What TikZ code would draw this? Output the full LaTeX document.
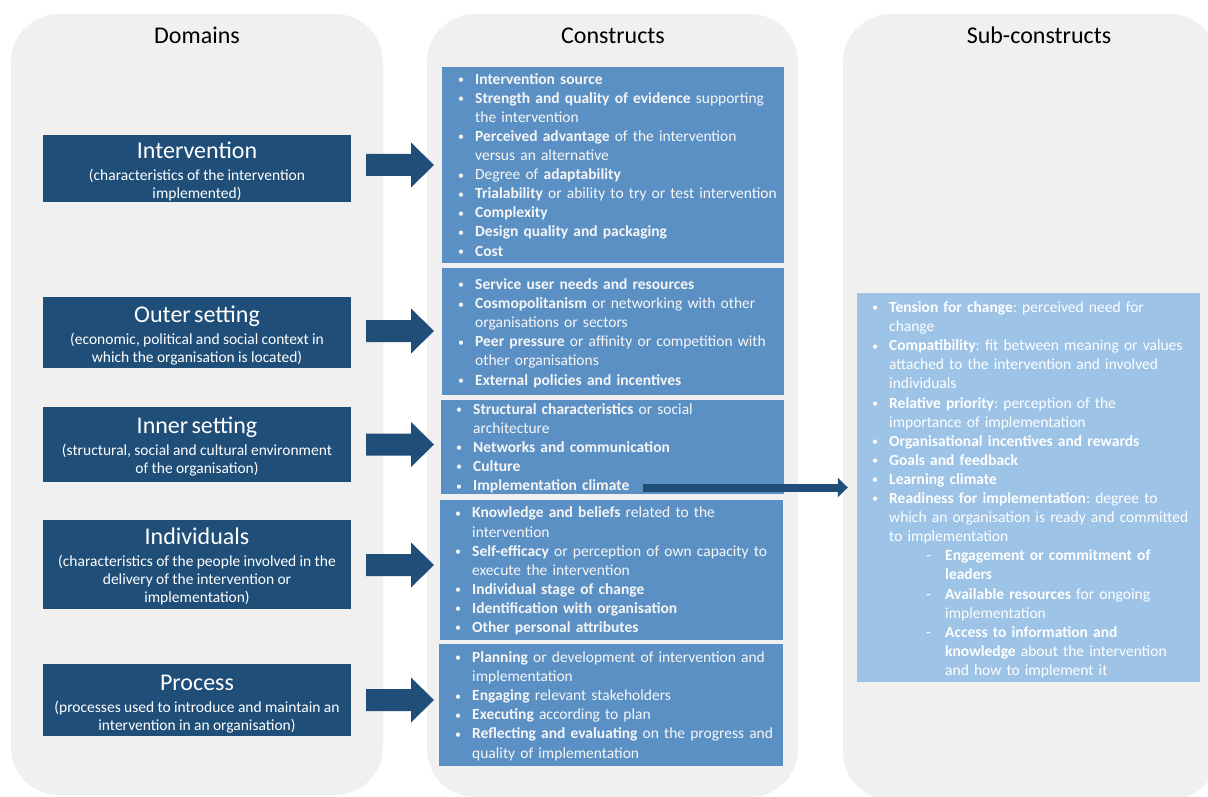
\documentclass[tikz,border=0pt]{standalone}
\usepackage{fontspec}
\setmainfont{Carlito}
\usetikzlibrary{arrows.meta}
\frenchspacing

\definecolor{panelgrey}{RGB}{240,240,240}
\definecolor{navy}{HTML}{1F4E79}
\definecolor{midblue}{RGB}{91,144,197}
\definecolor{paleblue}{HTML}{9DC3E6}
\definecolor{listwhite}{RGB}{246,246,246}

% list helpers: bullet, continuation indent, sub-item dash, sub-item continuation
\newcommand\lbul{\makebox[18pt][l]{\hspace{1pt}\raisebox{0.6pt}{\fontsize{12}{12}\selectfont\textbullet}}}
\newcommand\lcont{\hspace*{18pt}}
\newcommand\lsub{\hspace*{55pt}\makebox[19pt][l]{-}}
\newcommand\lsubc{\hspace*{74pt}}
\newcommand\lstrut{\rule{0pt}{13pt}}
% domain box texts
\newcommand\domhead[1]{{\fontsize{24}{24}\selectfont\rule{0pt}{20pt}#1\par}\vspace{3.2pt}}
\newcommand\domsub[1]{{\fontsize{15.5}{18.3}\selectfont #1\par}}
% block arrow from a start coordinate
\newcommand\blockarr[1]{\fill[navy] (#1) ++(0,-11) -- ++(45,0) -- ++(0,-11.5) -- ++(23,22.5) -- ++(-23,22.5) -- ++(0,-11.5) -- ++(-45,0) -- cycle;}

\tikzset{
  panel/.style={fill=panelgrey, rounded corners=48pt},
  dombox/.style={fill=navy, minimum width=308pt, inner sep=0pt},
  conbox/.style={fill=midblue, inner sep=0pt},
  subbox/.style={fill=paleblue, inner sep=0pt},
  listtext/.style={anchor=north west, inner sep=0pt, text width=340pt, align=left,
    text=listwhite, font=\fontsize{15.5}{19.1}\selectfont},
  sublisttext/.style={listtext, text=white},
  domtext/.style={anchor=north, inner sep=0pt, text width=308pt, align=center, text=white},
  coltitle/.style={anchor=base, inner sep=0pt, font=\fontsize{24}{24}\selectfont, text=black},
}

\begin{document}
\begin{tikzpicture}[x=1pt, y=-1pt]
\useasboundingbox (0,0) rectangle (1208,797);
\clip (0,0) rectangle (1208,797);
\fill[white] (0,0) rectangle (1208,797);

% column panels
\fill[panel] (11,14) rectangle (383,795);
\fill[panel] (427,14) rectangle (798,797);
\fill[panel] (843,14) rectangle (1218,800);

% column titles
\node[coltitle] (hdom) at (197,43.3) {Domains};
\node[coltitle] (hcon) at (613,43.3) {Constructs};
\node[coltitle] (hsub) at (1039,43.3) {Sub-constructs};

% domain boxes
\node[dombox, minimum height=67pt] (dint) at (197,168.5) {};
\node[dombox, minimum height=71pt] (dout) at (197,332.5) {};
\node[dombox, minimum height=75pt] (dinn) at (197,444.5) {};
\node[dombox, minimum height=89pt] (dind) at (197,564.5) {};
\node[dombox, minimum height=72pt] (dpro) at (197,700) {};

\node[domtext] (tint) at (197,138.3) {\domhead{Intervention}\domsub{(characteristics of the intervention\\implemented)}};
\node[domtext] (tout) at (197,302.3) {\domhead{Outer setting}\domsub{(economic, political and social context in\\which the organisation is located)}};
\node[domtext] (tinn) at (197,413.3) {\domhead{Inner setting}\domsub{(structural, social and cultural environment\\of the organisation)}};
\node[domtext] (tind) at (197,524.3) {\domhead{Individuals}\domsub{(characteristics of the people involved in the\\delivery of the intervention or\\implementation)}};
\node[domtext] (tpro) at (197,670.7) {\domhead{Process}\domsub{(processes used to introduce and maintain an\\intervention in an organisation)}};

% construct boxes
\node[conbox, minimum width=342pt, minimum height=196pt] (cint) at (613,165) {};
\node[conbox, minimum width=342pt, minimum height=127pt] (cout) at (613,331.5) {};
\node[conbox, minimum width=343pt, minimum height=94pt] (cinn) at (612.5,447) {};
\node[conbox, minimum width=343pt, minimum height=140pt] (cind) at (611.5,570) {};
\node[conbox, minimum width=344pt, minimum height=122pt] (cpro) at (611,705) {};

\node[listtext] (lint) at (457,71) {\lstrut\lbul\textbf{Intervention source}\\
\lbul\textbf{Strength and quality of evidence} supporting\\
\lcont the intervention\\
\lbul\textbf{Perceived advantage} of the intervention\\
\lcont versus an alternative\\
\lbul Degree of \textbf{adaptability}\\
\lbul\textbf{Trialability} or ability to try or test intervention\\
\lbul\textbf{Complexity}\\
\lbul\textbf{Design quality and packaging}\\
\lbul\textbf{Cost}};

\node[listtext] (lout) at (457,276.3) {\lstrut\lbul\textbf{Service user needs and resources}\\
\lbul\textbf{Cosmopolitanism} or networking with other\\
\lcont organisations or sectors\\
\lbul\textbf{Peer pressure} or affinity or competition with\\
\lcont other organisations\\
\lbul\textbf{External policies and incentives}};

\node[listtext] (linn) at (455,401) {\lstrut\lbul\textbf{Structural characteristics} or social\\
\lcont architecture\\
\lbul\textbf{Networks and communication}\\
\lbul\textbf{Culture}\\
\lbul\textbf{Implementation climate}};

\node[listtext] (lind) at (454,504.7) {\lstrut\lbul\textbf{Knowledge and beliefs} related to the\\
\lcont intervention\\
\lbul\textbf{Self-efficacy} or perception of own capacity to\\
\lcont execute the intervention\\
\lbul\textbf{Individual stage of change}\\
\lbul\textbf{Identification with organisation}\\
\lbul\textbf{Other personal attributes}};

\node[listtext] (lpro) at (454,649.3) {\lstrut\lbul\textbf{Planning} or development of intervention and\\
\lcont implementation\\
\lbul\textbf{Engaging} relevant stakeholders\\
\lbul\textbf{Executing} according to plan\\
\lbul\textbf{Reflecting and evaluating} on the progress and\\
\lcont quality of implementation};

% sub-constructs of implementation climate
\node[subbox, minimum width=343pt, minimum height=389pt] (sub) at (1028.5,487.5) {};
\node[sublisttext] (lsub) at (871,299.3) {\lstrut\lbul\textbf{Tension for change}: perceived need for\\
\lcont change\\
\lbul\textbf{Compatibility}: fit between meaning or values\\
\lcont attached to the intervention and involved\\
\lcont individuals\\
\lbul\textbf{Relative priority}: perception of the\\
\lcont importance of implementation\\
\lbul\textbf{Organisational incentives and rewards}\\
\lbul\textbf{Goals and feedback}\\
\lbul\textbf{Learning climate}\\
\lbul\textbf{Readiness for implementation}: degree to\\
\lcont which an organisation is ready and committed\\
\lcont to implementation\\
\lsub\textbf{Engagement or commitment of}\\
\lsubc\textbf{leaders}\\
\lsub\textbf{Available resources} for ongoing\\
\lsubc implementation\\
\lsub\textbf{Access to information and}\\
\lsubc\textbf{knowledge} about the intervention\\
\lsubc and how to implement it};

% domain -> construct arrows
\coordinate (aint) at (366,165);
\coordinate (aout) at (366,331);
\coordinate (ainn) at (366,444.5);
\coordinate (aind) at (366,565);
\coordinate (apro) at (366,700);
\blockarr{aint}
\blockarr{aout}
\blockarr{ainn}
\blockarr{aind}
\blockarr{apro}

% implementation climate -> sub-constructs
\coordinate (clim) at (643,487.5);
\draw[navy, line width=8pt, -{Triangle[length=10pt,width=19pt]}, shorten >=9pt] (clim) -- (clim -| sub.west);
\end{tikzpicture}
\end{document}
